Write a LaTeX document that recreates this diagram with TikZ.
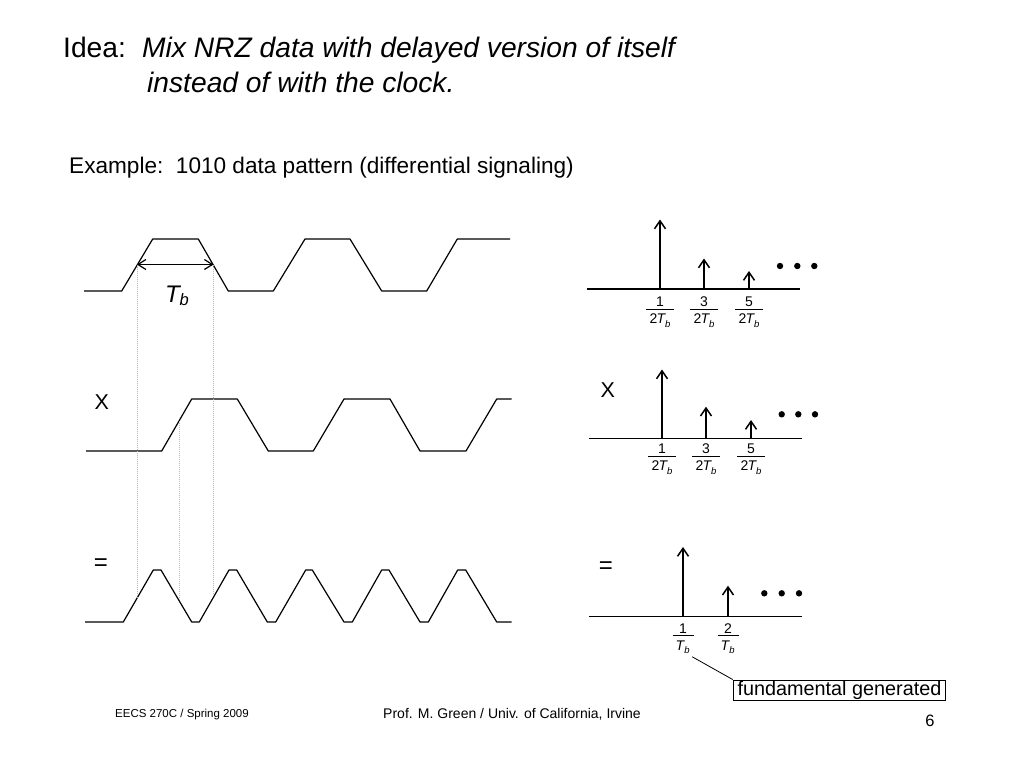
\documentclass[tikz,border=0pt]{standalone}
\usepackage{fontspec}
\setmainfont{Liberation Sans}
\usetikzlibrary{arrows.meta}
\newcommand\fs[1]{\fontsize{#1}{#1}\selectfont}
\newcommand\Tsub{\kern-0.8pt\textit{T}\kern-0.8pt\raisebox{-0.25em}{\fs{9.5}\textit{b}}}
% name, x, y of bar, numerator, denominator, half width of bar
\newcommand\spfrac[6]{%
  \node[fracpart] (#1n) at (#2,#3-2.5) {#4};
  \draw[fracbar] (#2-#6,#3) -- (#2+#6,#3);
  \node[fracpart] (#1d) at (#2,#3+14.5) {#5};}
\begin{document}
\begin{tikzpicture}[x=1pt,y=-1pt,
  wave/.style={line width=1.2pt, line join=round},
  guide/.style={gray!55, line width=0.5pt, dash pattern=on 0.8pt off 1.2pt},
  axisline/.style={line width=1.4pt},
  spike/.style={line width=1.8pt, -{Straight Barb[length=8pt,width=11pt,line width=1.5pt]}},
  specdot/.style={fill=black, circle, inner sep=0pt, minimum size=6.4pt},
  fracpart/.style={font=\fs{14}, inner sep=0pt, anchor=base},
  fracbar/.style={line width=0.7pt},
  bigtxt/.style={inner sep=0pt, anchor=base west},
  sym/.style={inner sep=0pt, font=\fs{21.5}},
]
\useasboundingbox (0,0) rectangle (1024,768);

% ---------- titles ----------
\node[bigtxt, font=\fs{28.2}] (idea) at (63,58) {Idea:};
\node[bigtxt, font=\fs{28.2}\itshape] (l1) at (142,58) {Mix NRZ data with delayed version of itself};
\node[bigtxt, font=\fs{28.2}\itshape] (l2) at (147,92) {instead of with the clock.};
\node[bigtxt, font=\fs{22.6}] (ex) at (69,173) {Example:\ \ 1010 data pattern (differential signaling)};

% ---------- waveforms ----------
\draw[wave] (84,291) -- (121.7,291) -- (152.7,239) -- (198.3,239) -- (228.3,291)
  -- (273.3,291) -- (305,239) -- (350,239) -- (381.7,291) -- (426.7,291)
  -- (457.3,239) -- (510,239);
\draw[wave] (86,451) -- (161.7,451) -- (191.7,399) -- (237.3,399) -- (268.3,451)
  -- (313.3,451) -- (344,399) -- (390,399) -- (420,451) -- (466,451)
  -- (496.7,399) -- (511.7,399);
\draw[wave] (85,622) -- (123.3,622) -- (153.3,570) -- (161,570) -- (191.7,622)
  -- (199.3,622) -- (229,570) -- (236.7,570) -- (267.3,622) -- (275.7,622)
  -- (305.7,570) -- (312.3,570) -- (344,622) -- (352.3,622) -- (381.7,570)
  -- (389,570) -- (420,622) -- (428.3,622) -- (457.7,570) -- (465.7,570)
  -- (496.7,622) -- (511.7,622);

% guides
\coordinate (tbL) at (136.8,264.5);
\coordinate (tbR) at (213.5,264.5);
\coordinate (gL) at (136.8,597);
\coordinate (gR) at (213.5,596);
\coordinate (gMt) at (179.3,421);
\coordinate (gMb) at (179.3,600);
\draw[guide] (tbL) -- (gL);
\draw[guide] (tbR) -- (gR);
\draw[guide] (gMt) -- (gMb);

% Tb arrow
\draw[line width=1.2pt, {Straight Barb[length=8pt,width=10pt]}-{Straight Barb[length=8pt,width=10pt]}] (tbL) -- (tbR);
\node[inner sep=0pt, anchor=base, font=\fs{24}] (tb) at (177,302) {\textit{T}\kern-1.5pt\raisebox{-3.5pt}{\fs{16.5}\textit{b}}};

\node[sym] (xl) at (101.7,401.7) {X};
\node[sym, font=\fs{24}] (eql) at (101,564.5) {=};

% ---------- spectra ----------
% top
\draw[axisline] (587,289) -- (800,289);
\draw[spike] (660,289) -- (660,219.5);
\draw[spike] (704,289) -- (704,258.5);
\draw[spike] (749,289) -- (749,271);
\node[specdot] (d1) at (780,266) {};
\node[specdot] (d2) at (797.3,266) {};
\node[specdot] (d3) at (814.3,266) {};
\spfrac{ta}{660}{309}{1}{2\Tsub}{14}
\spfrac{tb}{704}{309}{3}{2\Tsub}{14}
\spfrac{tc}{749}{309}{5}{2\Tsub}{14}

% middle
\node[sym] (xr) at (607.8,390.3) {X};
\draw[axisline] (589,438.3) -- (801.7,438.3);
\draw[spike] (662,438.3) -- (662,369.5);
\draw[spike] (706,438.3) -- (706,406.7);
\draw[spike] (751,438.3) -- (751,420);
\node[specdot] (e1) at (781.7,414.3) {};
\node[specdot] (e2) at (798.3,414.3) {};
\node[specdot] (e3) at (815,414.3) {};
\spfrac{ma}{662}{456}{1}{2\Tsub}{14}
\spfrac{mb}{706}{456}{3}{2\Tsub}{14}
\spfrac{mc}{751}{456}{5}{2\Tsub}{14}

% bottom
\node[sym, font=\fs{24}] (eqr) at (605.8,567.5) {=};
\draw[axisline] (589,616.7) -- (801.7,616.7);
\draw[spike] (683,616.7) -- (683,547);
\draw[spike] (728,616.7) -- (728,585.7);
\node[specdot] (g1) at (764.3,593.3) {};
\node[specdot] (g2) at (781.7,593.3) {};
\node[specdot] (g3) at (799,593.3) {};
\spfrac{ba}{683}{635.5}{1}{\Tsub}{10.5}
\spfrac{bb}{728}{635.5}{2}{\Tsub}{10.5}

\node[draw, line width=0.9pt, inner xsep=4.5pt, inner ysep=0pt, minimum height=20pt,
      font=\fs{19.8}] (fund) at (839.5,690) {fundamental generated};
\draw[line width=0.8pt] ([shift={(2.5,3)}]bad.south east) -- (fund.north west);

% ---------- footer ----------
\node[bigtxt, font=\fs{11.5}] (f1) at (115,717.5) {EECS 270C / Spring 2009};
\node[inner sep=0pt, anchor=base, font=\fs{14}] (f2) at (512,718) {Prof. M. Green / Univ. of California, Irvine};
\node[inner sep=0pt, anchor=base, font=\fs{16.5}] (f3) at (930,726) {6};
\end{tikzpicture}
\end{document}
